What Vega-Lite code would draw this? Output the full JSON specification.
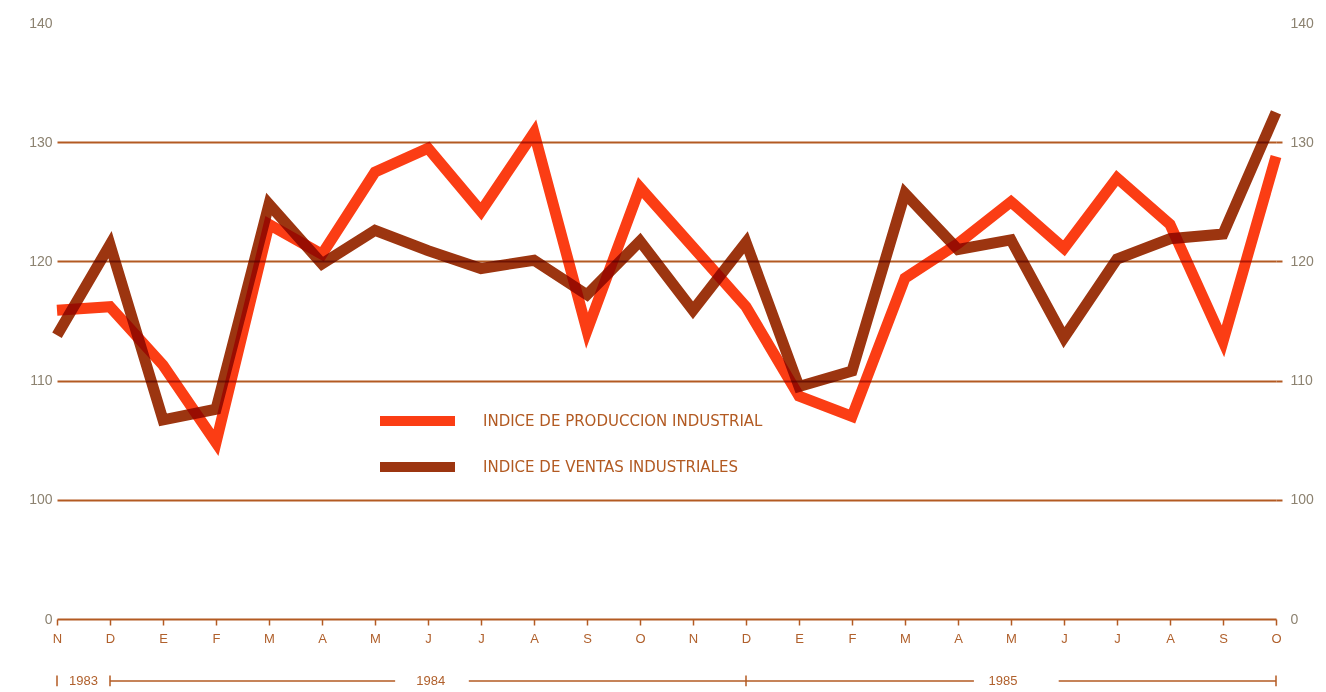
{
  "$schema": "https://vega.github.io/schema/vega-lite/v6.json",
  "width": 1219,
  "height": 596,
  "autosize": {"type": "none"},
  "padding": {"left": 57, "top": 23, "right": 50, "bottom": 73},
  "background": "#ffffff",
  "config": {"view": {"stroke": null}, "font": "Liberation Sans"},
  "datasets": {
    "indices": [
      {"n": 0, "mes": "N", "serie": "INDICE DE PRODUCCION INDUSTRIAL", "valor": 115.9},
      {"n": 1, "mes": "D", "serie": "INDICE DE PRODUCCION INDUSTRIAL", "valor": 116.2},
      {"n": 2, "mes": "E", "serie": "INDICE DE PRODUCCION INDUSTRIAL", "valor": 111.3},
      {"n": 3, "mes": "F", "serie": "INDICE DE PRODUCCION INDUSTRIAL", "valor": 104.8},
      {"n": 4, "mes": "M", "serie": "INDICE DE PRODUCCION INDUSTRIAL", "valor": 123.1},
      {"n": 5, "mes": "A", "serie": "INDICE DE PRODUCCION INDUSTRIAL", "valor": 120.6},
      {"n": 6, "mes": "M", "serie": "INDICE DE PRODUCCION INDUSTRIAL", "valor": 127.5},
      {"n": 7, "mes": "J", "serie": "INDICE DE PRODUCCION INDUSTRIAL", "valor": 129.5},
      {"n": 8, "mes": "J", "serie": "INDICE DE PRODUCCION INDUSTRIAL", "valor": 124.2},
      {"n": 9, "mes": "A", "serie": "INDICE DE PRODUCCION INDUSTRIAL", "valor": 130.8},
      {"n": 10, "mes": "S", "serie": "INDICE DE PRODUCCION INDUSTRIAL", "valor": 114.2},
      {"n": 11, "mes": "O", "serie": "INDICE DE PRODUCCION INDUSTRIAL", "valor": 126.2},
      {"n": 12, "mes": "N", "serie": "INDICE DE PRODUCCION INDUSTRIAL", "valor": 121.2},
      {"n": 13, "mes": "D", "serie": "INDICE DE PRODUCCION INDUSTRIAL", "valor": 116.2},
      {"n": 14, "mes": "E", "serie": "INDICE DE PRODUCCION INDUSTRIAL", "valor": 108.7},
      {"n": 15, "mes": "F", "serie": "INDICE DE PRODUCCION INDUSTRIAL", "valor": 107.0},
      {"n": 16, "mes": "M", "serie": "INDICE DE PRODUCCION INDUSTRIAL", "valor": 118.6},
      {"n": 17, "mes": "A", "serie": "INDICE DE PRODUCCION INDUSTRIAL", "valor": 121.5},
      {"n": 18, "mes": "M", "serie": "INDICE DE PRODUCCION INDUSTRIAL", "valor": 125.0},
      {"n": 19, "mes": "J", "serie": "INDICE DE PRODUCCION INDUSTRIAL", "valor": 121.1},
      {"n": 20, "mes": "J", "serie": "INDICE DE PRODUCCION INDUSTRIAL", "valor": 127.0},
      {"n": 21, "mes": "A", "serie": "INDICE DE PRODUCCION INDUSTRIAL", "valor": 123.1},
      {"n": 22, "mes": "S", "serie": "INDICE DE PRODUCCION INDUSTRIAL", "valor": 113.3},
      {"n": 23, "mes": "O", "serie": "INDICE DE PRODUCCION INDUSTRIAL", "valor": 128.8},
      {"n": 0, "mes": "N", "serie": "INDICE DE VENTAS INDUSTRIALES", "valor": 113.8},
      {"n": 1, "mes": "D", "serie": "INDICE DE VENTAS INDUSTRIALES", "valor": 121.4},
      {"n": 2, "mes": "E", "serie": "INDICE DE VENTAS INDUSTRIALES", "valor": 106.7},
      {"n": 3, "mes": "F", "serie": "INDICE DE VENTAS INDUSTRIALES", "valor": 107.6},
      {"n": 4, "mes": "M", "serie": "INDICE DE VENTAS INDUSTRIALES", "valor": 124.8},
      {"n": 5, "mes": "A", "serie": "INDICE DE VENTAS INDUSTRIALES", "valor": 119.8},
      {"n": 6, "mes": "M", "serie": "INDICE DE VENTAS INDUSTRIALES", "valor": 122.6},
      {"n": 7, "mes": "J", "serie": "INDICE DE VENTAS INDUSTRIALES", "valor": 120.9},
      {"n": 8, "mes": "J", "serie": "INDICE DE VENTAS INDUSTRIALES", "valor": 119.4},
      {"n": 9, "mes": "A", "serie": "INDICE DE VENTAS INDUSTRIALES", "valor": 120.1},
      {"n": 10, "mes": "S", "serie": "INDICE DE VENTAS INDUSTRIALES", "valor": 117.2},
      {"n": 11, "mes": "O", "serie": "INDICE DE VENTAS INDUSTRIALES", "valor": 121.7},
      {"n": 12, "mes": "N", "serie": "INDICE DE VENTAS INDUSTRIALES", "valor": 115.9},
      {"n": 13, "mes": "D", "serie": "INDICE DE VENTAS INDUSTRIALES", "valor": 121.6},
      {"n": 14, "mes": "E", "serie": "INDICE DE VENTAS INDUSTRIALES", "valor": 109.5},
      {"n": 15, "mes": "F", "serie": "INDICE DE VENTAS INDUSTRIALES", "valor": 110.8},
      {"n": 16, "mes": "M", "serie": "INDICE DE VENTAS INDUSTRIALES", "valor": 125.7},
      {"n": 17, "mes": "A", "serie": "INDICE DE VENTAS INDUSTRIALES", "valor": 121.0},
      {"n": 18, "mes": "M", "serie": "INDICE DE VENTAS INDUSTRIALES", "valor": 121.8},
      {"n": 19, "mes": "J", "serie": "INDICE DE VENTAS INDUSTRIALES", "valor": 113.6},
      {"n": 20, "mes": "J", "serie": "INDICE DE VENTAS INDUSTRIALES", "valor": 120.2},
      {"n": 21, "mes": "A", "serie": "INDICE DE VENTAS INDUSTRIALES", "valor": 121.9},
      {"n": 22, "mes": "S", "serie": "INDICE DE VENTAS INDUSTRIALES", "valor": 122.3},
      {"n": 23, "mes": "O", "serie": "INDICE DE VENTAS INDUSTRIALES", "valor": 132.5}
    ],
    "tramos": [
      {"desde": 1, "hasta": 6.38},
      {"desde": 7.77, "hasta": 17.3},
      {"desde": 18.9, "hasta": 23}
    ],
    "marcas": [
      {"n": 0}, {"n": 1}, {"n": 13}, {"n": 23}
    ],
    "anios": [
      {"anio": "1983", "centro": 0.5},
      {"anio": "1984", "centro": 7.05},
      {"anio": "1985", "centro": 17.85}
    ]
  },
  "resolve": {"axis": {"y": "independent"}},
  "layer": [
    {
      "data": {"name": "indices"},
      "mark": {"type": "line", "strokeWidth": 11, "blend": "multiply", "strokeJoin": "miter", "strokeMiterLimit": 4},
      "encoding": {
        "x": {
          "field": "n", "type": "quantitative",
          "scale": {"domain": [0, 23], "nice": false, "zero": false},
          "axis": {
            "title": null, "grid": false,
            "values": [0,1,2,3,4,5,6,7,8,9,10,11,12,13,14,15,16,17,18,19,20,21,22,23],
            "labelExpr": "['N','D','E','F','M','A','M','J','J','A','S','O','N','D','E','F','M','A','M','J','J','A','S','O'][datum.value]",
            "domainColor": "#b35a22", "domainWidth": 2,
            "tickColor": "#b35a22", "tickWidth": 1.5, "tickSize": 6,
            "labelColor": "#b0602c", "labelFontSize": 13, "labelPadding": 7,
            "labelFlush": false, "labelOverlap": false
          }
        },
        "y": {
          "field": "valor", "type": "quantitative",
          "scale": {"domain": [90, 140], "nice": false, "zero": false},
          "axis": {
            "orient": "left", "title": null,
            "values": [90, 100, 110, 120, 130, 140],
            "labelExpr": "datum.value == 90 ? '0' : datum.label",
            "grid": true, "gridColor": "#b35a22", "gridWidth": 2,
            "gridOpacity": {"condition": {"test": "datum.value >= 140 || datum.value <= 90", "value": 0}, "value": 1},
            "ticks": false, "domain": false,
            "labelColor": "#8c8270", "labelFontSize": 14, "labelPadding": 5
          }
        },
        "color": {
          "field": "serie", "type": "nominal",
          "scale": {
            "domain": ["INDICE DE PRODUCCION INDUSTRIAL", "INDICE DE VENTAS INDUSTRIALES"],
            "range": ["#fb3d14", "#9c3510"]
          },
          "legend": {
            "title": null, "orient": "none", "legendX": 318, "legendY": 378,
            "symbolType": "stroke", "symbolSize": 5625, "symbolStrokeWidth": 10,
            "clipHeight": 40, "rowPadding": 6,
            "labelFont": "DejaVu Sans", "labelFontSize": 15, "labelColor": "#b25a22", "labelOffset": 23,
            "labelLimit": 400
          }
        }
      }
    },
    {
      "data": {"name": "tramos"},
      "mark": {"type": "rule", "color": "#b35a22", "strokeWidth": 1.5},
      "encoding": {
        "x": {"field": "desde", "type": "quantitative"},
        "x2": {"field": "hasta"},
        "y": {
          "datum": 84.8, "type": "quantitative",
          "axis": {
            "orient": "right", "title": null,
            "values": [90, 100, 110, 120, 130, 140],
            "labelExpr": "datum.value == 90 ? '0' : datum.label",
            "grid": false, "domain": false,
            "tickColor": "#b35a22", "tickWidth": 2, "tickSize": 6,
            "tickOpacity": {"condition": {"test": "datum.value >= 140 || datum.value <= 90", "value": 0}, "value": 1},
            "labelColor": "#8c8270", "labelFontSize": 14, "labelPadding": 8
          }
        }
      }
    },
    {
      "data": {"name": "marcas"},
      "mark": {"type": "rule", "color": "#b35a22", "strokeWidth": 1.5},
      "encoding": {
        "x": {"field": "n", "type": "quantitative"},
        "y": {"datum": 84.35, "type": "quantitative", "axis": null},
        "y2": {"datum": 85.25}
      }
    },
    {
      "data": {"name": "anios"},
      "mark": {"type": "text", "color": "#b0602c", "fontSize": 13, "align": "center", "baseline": "middle"},
      "encoding": {
        "x": {"field": "centro", "type": "quantitative"},
        "y": {"datum": 84.8, "type": "quantitative", "axis": null},
        "text": {"field": "anio"}
      }
    }
  ]
}
